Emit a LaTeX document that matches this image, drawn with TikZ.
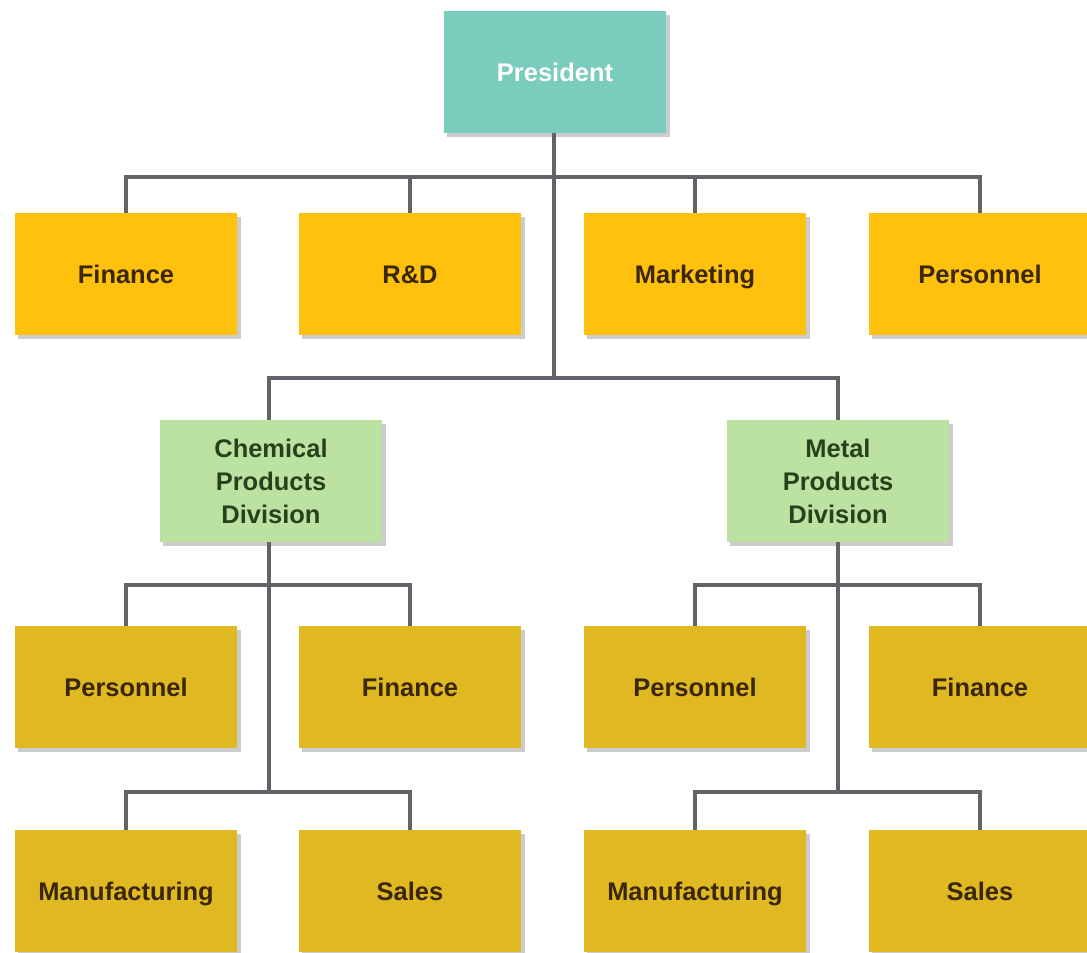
\documentclass[tikz,border=0pt]{standalone}
\usepackage{fontspec}
\setmainfont{Liberation Sans}
\usetikzlibrary{shadows}

\definecolor{presteal}{RGB}{122,204,188}
\definecolor{deptorange}{RGB}{255,193,14}
\definecolor{divgreen}{RGB}{188,226,162}
\definecolor{unitgold}{RGB}{224,185,34}
\definecolor{linegray}{RGB}{98,98,104}
\definecolor{textbrown}{RGB}{58,38,8}
\definecolor{textgreen}{RGB}{38,66,28}

\begin{document}
\begin{tikzpicture}[
        x=0.02cm, y=-0.02cm,
        box/.style = {rectangle, minimum width=4.46cm, minimum height=2.44cm, inner sep=0pt,
                      align=center, font=\fontsize{14.5}{18.8}\selectfont\bfseries,
                      drop shadow={shadow xshift=0.07cm, shadow yshift=-0.08cm, fill=black, opacity=0.2}},
        single/.style = {text height=2.4ex, text depth=0.45ex},
        head/.style = {box, single, fill=presteal, text=white},
        dept/.style = {box, single, fill=deptorange, text=textbrown},
        division/.style = {box, fill=divgreen, text=textgreen},
        unit/.style = {box, single, fill=unitgold, text=textbrown},
        link/.style = {draw=linegray, line width=1.8pt},
        ]
        \useasboundingbox (0,0) rectangle (1087,952);
        % top
        \node[head] (pres) at (555,72) {President};
        % staff departments
        \node[dept] (fin) at (126,274) {Finance};
        \node[dept] (rnd) at (410,274) {R\&D};
        \node[dept] (mkt) at (695,274) {Marketing};
        \node[dept] (pers) at (980,274) {Personnel};
        % divisions
        \node[division] (chem) at (271,481) {Chemical\\Products\\Division};
        \node[division] (metal) at (838,481) {Metal\\Products\\Division};
        % chemical units
        \node[unit] (cpers) at (126,687) {Personnel};
        \node[unit] (cfin) at (410,687) {Finance};
        \node[unit] (cman) at (126,891) {Manufacturing};
        \node[unit] (csal) at (410,891) {Sales};
        % metal units
        \node[unit] (mpers) at (695,687) {Personnel};
        \node[unit] (mfin) at (980,687) {Finance};
        \node[unit] (mman) at (695,891) {Manufacturing};
        \node[unit] (msal) at (980,891) {Sales};
        % junctions
        \coordinate (j1) at (554,177);
        \coordinate (j2) at (554,378);
        \coordinate (c1) at (269,585);
        \coordinate (c2) at (269,792);
        \coordinate (m1) at (838,585);
        \coordinate (m2) at (838,792);
        % lines
        \draw[link] (pres.south -| j1) -- (j2);
        \draw[link] (j1) -| (fin.north);
        \draw[link] (j1) -| (rnd.north);
        \draw[link] (j1) -| (mkt.north);
        \draw[link] (j1) -| (pers.north);
        \draw[link] (j2) -| (chem.north -| c1);
        \draw[link] (j2) -| (metal.north);
        \draw[link] (chem.south -| c1) -- (c2);
        \draw[link] (c1) -| (cpers.north);
        \draw[link] (c1) -| (cfin.north);
        \draw[link] (c2) -| (cman.north);
        \draw[link] (c2) -| (csal.north);
        \draw[link] (metal.south) -- (m2);
        \draw[link] (m1) -| (mpers.north);
        \draw[link] (m1) -| (mfin.north);
        \draw[link] (m2) -| (mman.north);
        \draw[link] (m2) -| (msal.north);
    \end{tikzpicture}
\end{document}
